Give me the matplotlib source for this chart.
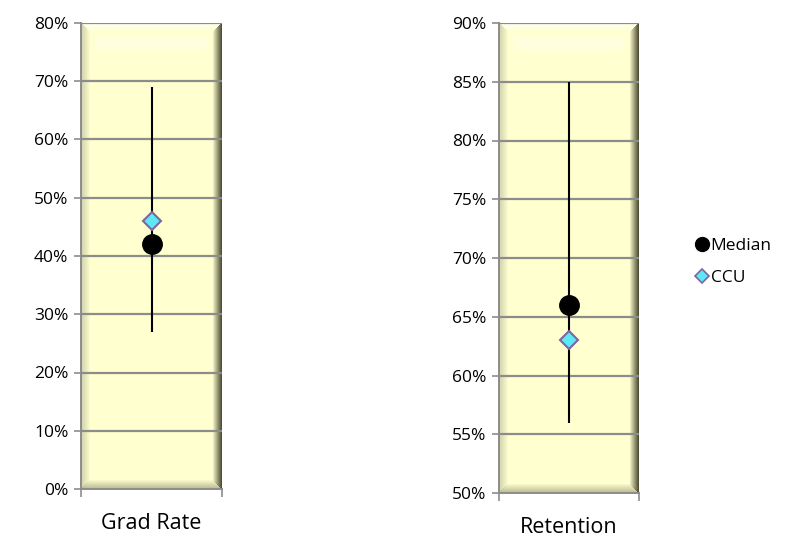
import numpy as np
import matplotlib
matplotlib.use('Agg')
import matplotlib.pyplot as plt
from matplotlib.lines import Line2D

plt.rcParams['font.family'] = ['Open Sans', 'DejaVu Sans']

# data
cats = ['Grad Rate', 'Retention']
low = [0.27, 0.56]
high = [0.69, 0.85]
median = [0.42, 0.66]
ccu = [0.46, 0.63]
ylims = [(0.0, 0.8), (0.5, 0.9)]
ysteps = [0.1, 0.05]

grid_c = '#8c8c8c'
cyan = '#5ce8f5'
purple = '#8064a2'


def bevel(w, h, b=9):
    base = np.array([255, 255, 208]) / 255
    img = np.tile(base, (h, w, 1)).astype(float)
    yy, xx = np.mgrid[0:h, 0:w]
    dt, db, dl, dr = yy, h - 1 - yy, xx, w - 1 - xx
    edges = [(dt, np.array([1.0, 1.0, 1.0]), 0.6),
             (dl, np.array([200, 200, 165]) / 255, 0.8),
             (db, np.array([170, 170, 130]) / 255, 0.8),
             (dr, np.array([70, 70, 45]) / 255, 0.95)]
    dmin = np.minimum.reduce([dt, db, dl, dr])
    for d, col, strength in edges:
        m = (d == dmin) & (d < b)
        t = (1 - d[m] / b) * strength
        img[m] = img[m] * (1 - t[:, None]) + col * t[:, None]
    # soft glow under the top edge
    glow = np.clip(1 - np.abs(yy - b - 8) / 14, 0, 1) * 0.45
    glow *= np.clip((dmin - b) / 10, 0, 1)
    img = img * (1 - glow[..., None]) + glow[..., None]
    return img


fig = plt.figure(figsize=(8.03, 5.37), dpi=100)
boxes = [[81 / 803, 48 / 537, 141 / 803, 466 / 537],
         [499 / 803, 44 / 537, 140 / 803, 470 / 537]]

for i in range(2):
    ax = fig.add_axes(boxes[i])
    lo, hi = ylims[i]
    ax.set_xlim(-0.5, 0.5)
    ax.set_ylim(lo, hi)
    ax.imshow(bevel(141, 468), extent=(-0.5, 0.5, lo, hi), aspect='auto', zorder=0)
    ticks = np.arange(lo, hi + 1e-9, ysteps[i])
    for t in ticks[1:]:
        ax.axhline(t, color=grid_c, lw=1.6, zorder=1)
    ax.set_yticks(ticks)
    ax.set_yticklabels(['{:.0f}%'.format(t * 100) for t in ticks], fontsize=12.5)
    ax.tick_params(axis='y', length=5, color=grid_c, width=1.2, pad=4)
    ax.set_xticks([-0.5, 0.5])
    ax.set_xticklabels([])
    ax.tick_params(axis='x', length=6, color=grid_c, width=1.2)
    ax.set_xticks([0], minor=True)
    ax.set_xticklabels([cats[i]], minor=True, fontsize=15.5)
    ax.tick_params(axis='x', which='minor', length=0, pad=17.5)
    for s in ['top', 'right']:
        ax.spines[s].set_visible(False)
    for s in ['left', 'bottom']:
        ax.spines[s].set_color(grid_c)
        ax.spines[s].set_linewidth(1.4)
    ax.vlines(0, low[i], high[i], color='black', lw=1.5, zorder=3)
    ax.plot(0, median[i], 'o', color='black', ms=14, zorder=4)
    ax.plot(0, ccu[i], 'D', color=cyan, mec=purple, mew=1.5, ms=9.5, zorder=5)

handles = [Line2D([], [], ls='none', marker='o', color='black', ms=10),
           Line2D([], [], ls='none', marker='D', color=cyan, mec=purple, mew=1.2, ms=7)]
fig.legend(handles, ['Median', 'CCU'], loc='center left',
           bbox_to_anchor=(676 / 803, 1 - 262 / 537), frameon=False,
           fontsize=12.5, handletextpad=-0.1, handlelength=1.2, labelspacing=0.9)

plt.savefig('out.png', dpi=100)
plt.close()
